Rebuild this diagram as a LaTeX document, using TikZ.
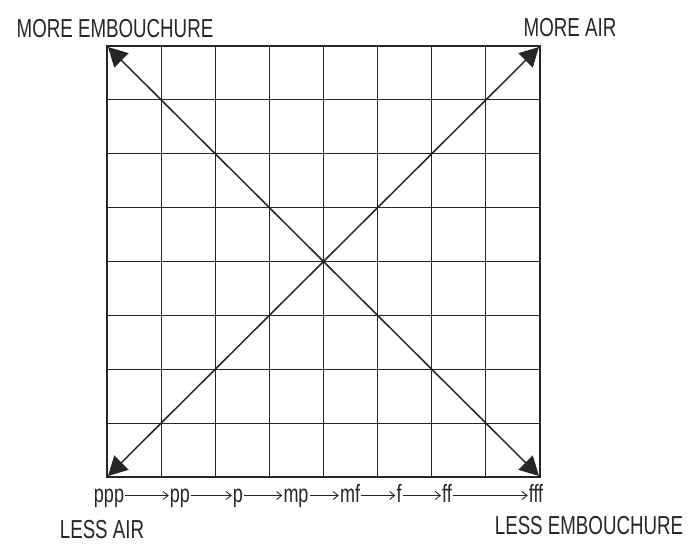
\documentclass[tikz,border=0pt]{standalone}
\usepackage{fontspec}
\setmainfont{Liberation Sans}
\usetikzlibrary{arrows.meta}
\newcommand{\hw}[1]{\scalebox{0.72}[1]{#1}}
\begin{document}
\begin{tikzpicture}[x=1pt,y=-1pt,
  lbl/.style={inner sep=0pt, font=\fontsize{26}{26}\selectfont, text=black!85},
  dyn/.style={inner sep=1pt, font=\fontsize{25}{25}\selectfont, text=black!85,
    text height=10pt, text depth=5pt, anchor=base},
  gridline/.style={line width=1.2pt, black!85},
  diag/.style={line width=1.5pt, black!85, -{Triangle[length=19pt,width=20pt]}},
  seq/.style={line width=0.9pt, black!85, -{Straight Barb[length=5pt,width=8pt]}}]
\useasboundingbox (0,0) rectangle (688,545);
\fill[white] (0,0) rectangle (688,545);
% grid
\foreach \i in {1,...,7} {
  \draw[gridline] ({107+\i*54.125},46) -- ({107+\i*54.125},477);
  \draw[gridline] (107,{46+\i*53.875}) -- (540,{46+\i*53.875});
}
\draw[line width=2pt, black!85] (107,46) rectangle (540,477);
\coordinate (tl) at (108,47);
\coordinate (tr) at (539,47);
\coordinate (bl) at (108,476);
\coordinate (br) at (539,476);
\coordinate (c) at (323.5,261.5);
\draw[diag] (c) -- (tl);
\draw[diag] (c) -- (br);
\draw[diag] (c) -- (tr);
\draw[diag] (c) -- (bl);
% corner labels
\node[lbl] (me) at (115,29) {\hw{MORE EMBOUCHURE}};
\node[lbl] (ma) at (570,28) {\hw{MORE AIR}};
\node[lbl] (la) at (102,530) {\hw{LESS AIR}};
\node[lbl] (le) at (589,526) {\hw{LESS EMBOUCHURE}};
% dynamics sequence
\node[dyn] (d1) at (109,502) {\hw{ppp}};
\node[dyn] (d2) at (180,502) {\hw{pp}};
\node[dyn] (d3) at (238,502) {\hw{p}};
\node[dyn] (d4) at (296,502) {\hw{mp}};
\node[dyn] (d5) at (350,502) {\hw{mf}};
\node[dyn] (d6) at (399,502) {\hw{f}};
\node[dyn] (d7) at (447,502) {\hw{ff}};
\node[dyn] (d8) at (536,502) {\hw{fff}};
\foreach \a/\b in {d1/d2,d2/d3,d3/d4,d4/d5,d5/d6,d6/d7,d7/d8}
  \draw[seq] ([yshift=4pt]\a.east) -- ([yshift=4pt]\b.west);
\end{tikzpicture}
\end{document}
